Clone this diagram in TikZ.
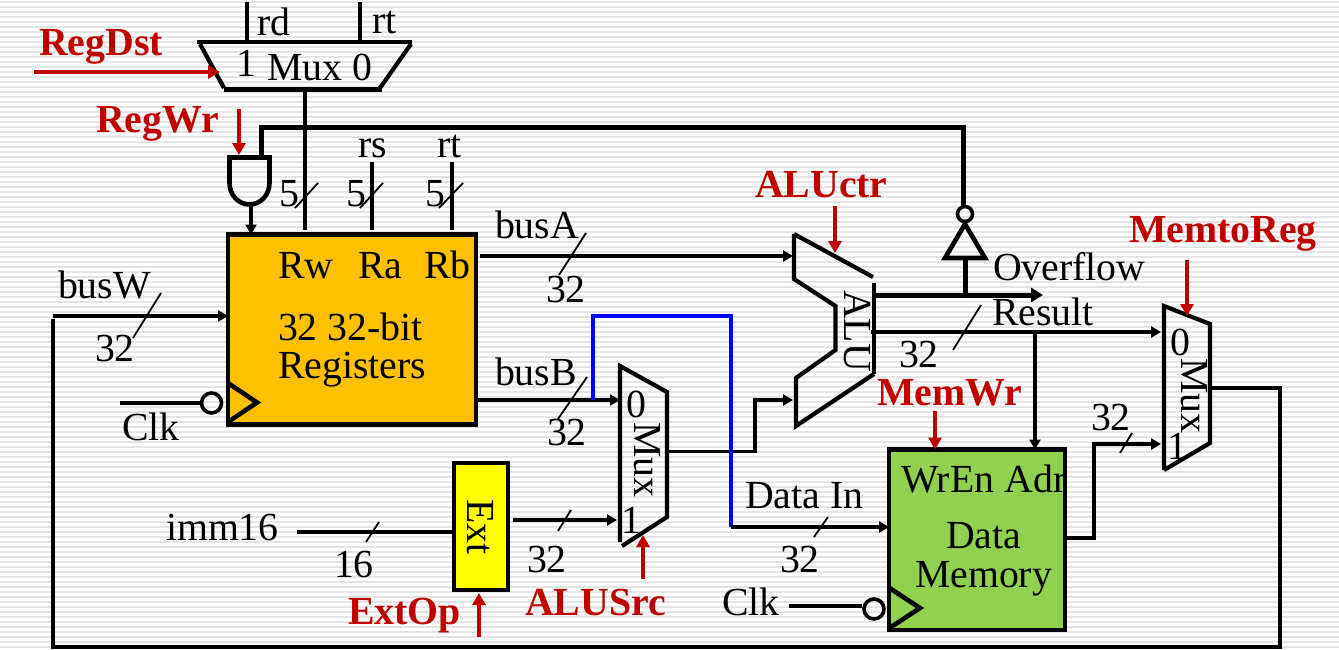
\documentclass[tikz,border=0pt]{standalone}
\usepackage{fontspec}
\setmainfont{Liberation Serif}
\usetikzlibrary{arrows.meta}
\definecolor{ctlred}{HTML}{C00000}
\definecolor{regfill}{HTML}{FFC000}
\definecolor{memfill}{HTML}{92D050}
\definecolor{wireblue}{HTML}{0000FF}
\definecolor{stripe}{HTML}{E4E4E4}
\definecolor{extfill}{HTML}{FFFF00}
\tikzset{
  txt/.style={anchor=base west,inner sep=0pt,outer sep=0pt,font=\fontsize{39.8}{40}\selectfont},
  midtxt/.style={anchor=center,inner sep=0pt,outer sep=0pt,font=\fontsize{39.8}{40}\selectfont},
  ctltxt/.style={txt,text=ctlred,font=\fontsize{39.8}{40}\selectfont\bfseries},
  wire/.style={draw=black,line width=3.6pt,line cap=butt,line join=miter},
  arrowwire/.style={wire,-{Triangle[length=10pt,width=11pt]}},
  thickwire/.style={draw=black,line width=5pt},
  tickmark/.style={draw=black,line width=1.8pt},
  ctlwire/.style={draw=ctlred,line width=3.6pt,-{Triangle[length=12pt,width=13pt]}},
  bluewire/.style={draw=wireblue,line width=3.6pt,line join=miter},
  outline/.style={draw=black,line width=4.6pt,line join=miter},
  muxline/.style={draw=black,line width=4.2pt,line cap=butt},
  solidbox/.style={inner sep=0pt,outer sep=0pt,draw=none}
}
\newcommand{\tickm}[5]{\coordinate (#1a) at (#2,#3);\coordinate (#1b) at (#4,#5);\draw[tickmark] (#1a) -- (#1b);}
\begin{document}
\begin{tikzpicture}[x=1pt,y=-1pt]
\useasboundingbox (0,0) rectangle (1339,649);
\fill[white] (0,0) rectangle (1339,649);
\foreach \yy in {2,7,...,647} \draw[stripe,line width=1.6pt] (0,\yy) -- (1339,\yy);

% boxes
\node[solidbox,fill=regfill,minimum width=248pt,minimum height=190pt] (regfile) at (352,329.5) {};
\node[solidbox,fill=memfill,minimum width=176pt,minimum height=180.5pt] (dmem) at (977,539.75) {};
\node[solidbox,fill=extfill,minimum width=54pt,minimum height=127pt] (extbox) at (481,526.5) {};

% box texts
\node[txt] (tRw) at (278,278) {Rw};
\node[txt] (tRa) at (358,278) {Ra};
\node[txt] (tRb) at (424,278) {Rb};
\node[txt] (tRegA) at (278,340) {32 32-bit};
\node[txt] (tRegB) at (278,378) {Registers};
\node[txt] (tWrEn) at (901,492) {WrEn Adr};
\node[txt] (tData) at (946,548) {Data};
\node[txt] (tMem) at (915,587) {Memory};
\node[midtxt,rotate=-90] (tExt) at (480,527) {Ext};

\draw[outline] (regfile.south west) rectangle (regfile.north east);
\draw[outline] (dmem.south west) rectangle (dmem.north east);
\draw[outline] (extbox.south west) rectangle (extbox.north east);

% clock triangles
\coordinate (regClkA) at (228,383);
\coordinate (regClkB) at (257,402.5);
\coordinate (regClkC) at (228,422);
\draw[outline] (regClkA) -- (regClkB) -- (regClkC);
\coordinate (memClkA) at (889.5,588);
\coordinate (memClkB) at (920,608);
\coordinate (memClkC) at (889.5,628);
\draw[outline] (memClkA) -- (memClkB) -- (memClkC);

% top mux
\coordinate (mA) at (197,42);
\coordinate (mB) at (412,42);
\coordinate (mC) at (200,44);
\coordinate (mD) at (224,88);
\coordinate (mE) at (224,89.5);
\coordinate (mF) at (382,89.5);
\coordinate (mG) at (411,44);
\coordinate (mH) at (380,88);
\draw[muxline] (mA) -- (mB);
\draw[muxline] (mC) -- (mD);
\draw[muxline] (mE) -- (mF);
\draw[muxline] (mG) -- (mH);
\coordinate (rdTop) at (247,2);
\coordinate (rdBot) at (247,42);
\coordinate (rtTop) at (360,2);
\coordinate (rtBot) at (360,42);
\draw[wire] (rdTop) -- (rdBot);
\draw[wire] (rtTop) -- (rtBot);
\node[txt] (trd) at (257,35) {rd};
\node[txt] (trtA) at (372,33) {rt};
\node[txt] (tone) at (236,76) {1};
\node[txt] (tMuxA) at (267,80) {Mux};
\node[txt] (tzero) at (352,80) {0};

% register selector wires
\coordinate (rwTop) at (305,90);
\coordinate (rwBot) at (305,230);
\coordinate (raTop) at (372,162);
\coordinate (raBot) at (372,230);
\coordinate (rbTop) at (452,162);
\coordinate (rbBot) at (452,230);
\draw[wire] (rwTop) -- (rwBot);
\draw[wire] (raTop) -- (raBot);
\draw[wire] (rbTop) -- (rbBot);
\node[txt] (trs) at (358,157) {rs};
\node[txt] (trtB) at (437,157) {rt};
\node[txt] (tfiveA) at (279,206) {5};
\node[txt] (tfiveB) at (346,206) {5};
\node[txt] (tfiveC) at (425,206) {5};
\tickm{tkRw}{295}{208}{318}{183}
\tickm{tkRa}{360}{208}{383}{183}
\tickm{tkRb}{439}{208}{463}{183}

% AND gate
\coordinate (andTL) at (229.5,157.5);
\coordinate (andTR) at (269.5,157.5);
\draw[outline] (andTL) -- (andTR) -- (269.5,183) arc[start angle=0,end angle=180,x radius=20,y radius=21.5] -- cycle;

% write enable feedback wire
\coordinate (fbA) at (261,157);
\coordinate (fbB) at (261,127.5);
\coordinate (fbC) at (963.5,127.5);
\coordinate (fbD) at (963.5,206);
\draw[thickwire,line join=miter] (fbA) -- (fbB) -- (fbC) -- (fbD);
\coordinate (andOut) at (251,205);
\draw[arrowwire] (andOut) -- (andOut |- regfile.north);

% inverter
\coordinate (invL) at (945,258);
\coordinate (invR) at (985,258);
\coordinate (invT) at (965,224);
\draw[outline] (invL) -- (invR) -- (invT) -- cycle;
\node[circle,draw=black,line width=3.6pt,minimum size=15pt,inner sep=0pt] (invBub) at (965,214) {};
\coordinate (ovJ) at (965,295);
\coordinate (ovStart) at (875,295);
\coordinate (ovEnd) at (1043,295);
\draw[thickwire] (ovJ) -- (965,258);
\draw[draw=black,line width=5pt,-{Triangle[length=12pt,width=14pt]}] (ovStart) -- (ovEnd);
\node[txt] (tOver) at (993,280) {Overflow};
\node[txt] (tResult) at (992,325) {Result};

% ALU
\coordinate (a1) at (794,234);
\coordinate (a2) at (873,277);
\coordinate (a3) at (874,283);
\coordinate (a4) at (874,374);
\coordinate (a5) at (796,426);
\coordinate (a6) at (796,378);
\coordinate (a7) at (835.5,350);
\coordinate (a8) at (835.5,306);
\coordinate (a9) at (794,279);
\draw[muxline] (a1) -- (a2);
\draw[muxline] (a3) -- (a4);
\draw[muxline] (a4) -- (a5) -- (a6) -- (a7) -- (a8) -- (a9) -- (a1);
\node[midtxt,rotate=-90] (tALU) at (857,331) {ALU};

% ALUSrc mux
\coordinate (b1) at (620,366);
\coordinate (b2) at (667,392);
\coordinate (b3) at (667,517);
\coordinate (b4) at (622,546);
\coordinate (b5) at (620,542);
\draw[muxline] (b5) -- (b1) -- (b2) -- (b3) -- (b4);
\node[midtxt] (t0b) at (636,404) {0};
\node[midtxt,rotate=-90] (tMuxB) at (647,460) {Mux};
\node[midtxt] (t1b) at (631,520) {1};

% MemtoReg mux
\coordinate (c1) at (1164,306);
\coordinate (c2) at (1210,324);
\coordinate (c3) at (1210,443);
\coordinate (c4) at (1164,470);
\draw[muxline] (c4) -- (c1) -- (c2) -- (c3) -- (c4);
\node[midtxt] (t0c) at (1180,342) {0};
\node[midtxt,rotate=-90] (tMuxC) at (1194,396) {Mux};
\node[midtxt] (t1c) at (1177,446) {1};

% busW
\coordinate (bwS) at (53,316);
\draw[arrowwire] (bwS) -- (bwS -| regfile.west);
\node[txt] (tbusW) at (58,298) {busW};
\tickm{tkW}{161}{293}{133}{338}
\node[txt] (t32w) at (95,361) {32};

% loop back
\coordinate (lpA) at (1212,388);
\coordinate (lpB) at (1280,388);
\coordinate (lpC) at (1280,647);
\coordinate (lpD) at (53,647);
\coordinate (lpE) at (53,319);
\draw[wire,line join=miter] (lpA) -- (lpB) -- (lpC) -- (lpD) -- (lpE);

% clock of registers
\node[circle,draw=black,line width=3.6pt,minimum size=20pt,inner sep=0pt] (regBub) at (211.5,403) {};
\coordinate (regClk) at (120,403);
\draw[wire] (regClk) -- (regBub.west);
\node[txt] (tClkA) at (122,440) {Clk};

% busA
\coordinate (baS) at (480,256);
\coordinate (baE) at (793,256);
\draw[arrowwire] (baS) -- (baE);
\node[txt] (tbusA) at (495,238) {busA};
\tickm{tkA}{586}{233}{559}{275}
\node[txt] (t32a) at (546,302) {32};

% busB
\coordinate (bbE) at (620,400);
\draw[arrowwire] (bbE -| regfile.east) -- (bbE);
\node[txt] (tbusB) at (495,385) {busB};
\tickm{tkB}{587}{377}{558}{419}
\node[txt] (t32b) at (547,445) {32};

% mux to ALU
\coordinate (mxA) at (667,451.5);
\coordinate (mxB) at (755,451.5);
\coordinate (mxC) at (755,400);
\coordinate (mxD) at (793,400);
\draw[wire,line join=miter,-{Triangle[length=10pt,width=11pt]}] (mxA) -- (mxB) -- (mxC) -- (mxD);

% forwarding blue wire
\coordinate (blA) at (593,400);
\coordinate (blB) at (593,316);
\coordinate (blC) at (731,316);
\coordinate (blD) at (731,527);
\draw[bluewire] (blA) -- (blB) -- (blC) -- (blD);

% data in
\draw[arrowwire] (blD) -- (blD -| dmem.west);
\node[txt] (tDin) at (745,508) {Data In};
\tickm{tkD}{828}{517}{814}{537}
\node[txt] (t32d) at (780,572) {32};

% Result
\coordinate (rsS) at (871,332);
\coordinate (rsE) at (1161,332);
\coordinate (rsJ) at (1035,332);
\draw[arrowwire] (rsS) -- (rsE);
\draw[arrowwire] (rsJ) -- (rsJ |- dmem.north);
\tickm{tkR}{981}{305}{953}{350}
\node[txt] (t32r) at (899,367) {32};

% memory clock
\node[circle,draw=black,line width=3.6pt,minimum size=20pt,inner sep=0pt] (memBub) at (874,609) {};
\coordinate (memClk) at (789,606);
\draw[wire] (memClk) -- (memClk -| memBub.west);
\node[txt] (tClkB) at (722,615) {Clk};

% memory out
\coordinate (moB) at (1094,538);
\coordinate (moC) at (1094,444);
\coordinate (moD) at (1161,444);
\draw[wire,line join=miter,-{Triangle[length=10pt,width=11pt]}] (moB -| dmem.east) -- (moB) -- (moC) -- (moD);
\tickm{tkM}{1132}{433}{1120}{453}
\node[txt] (t32m) at (1091,430) {32};

% imm16 and Ext
\coordinate (imS) at (297,532);
\draw[wire] (imS) -- (imS -| extbox.west);
\node[txt] (timm) at (166,540) {imm16};
\tickm{tkI}{379}{522}{366}{542}
\node[txt] (t16) at (334,577) {16};
\coordinate (exS) at (513,520);
\coordinate (exE) at (617,520);
\draw[arrowwire] (exS) -- (exE);
\tickm{tkE}{571}{510}{558}{531}
\node[txt] (t32e) at (527,572) {32};

% control labels
\node[ctltxt] (cRegDst) at (39,55) {RegDst};
\coordinate (cRegDstS) at (34,72);
\coordinate (cRegDstE) at (220,72);
\draw[ctlwire] (cRegDstS) -- (cRegDstE);
\node[ctltxt] (cRegWr) at (96,132) {RegWr};
\coordinate (cRegWrS) at (239,109);
\coordinate (cRegWrE) at (239,155);
\draw[ctlwire] (cRegWrS) -- (cRegWrE);
\node[ctltxt] (cALUctr) at (755,197) {ALUctr};
\coordinate (cALUctrS) at (835,206);
\coordinate (cALUctrE) at (835,253);
\draw[ctlwire] (cALUctrS) -- (cALUctrE);
\node[ctltxt] (cMemtoReg) at (1129,242) {MemtoReg};
\coordinate (cMtRS) at (1187,260);
\coordinate (cMtRE) at (1187,316);
\draw[ctlwire] (cMtRS) -- (cMtRE);
\node[ctltxt] (cMemWr) at (877,405) {MemWr};
\coordinate (cMemWrS) at (935,411);
\draw[ctlwire] (cMemWrS) -- (cMemWrS |- dmem.north);
\node[ctltxt] (cExtOp) at (348,624) {ExtOp};
\coordinate (cExtOpS) at (479,637);
\coordinate (cExtOpE) at (479,593);
\draw[ctlwire] (cExtOpS) -- (cExtOpE);
\node[ctltxt] (cALUSrc) at (525,615) {ALUSrc};
\coordinate (cALUSrcS) at (643,579);
\coordinate (cALUSrcE) at (643,535);
\draw[ctlwire] (cALUSrcS) -- (cALUSrcE);
\end{tikzpicture}
\end{document}
